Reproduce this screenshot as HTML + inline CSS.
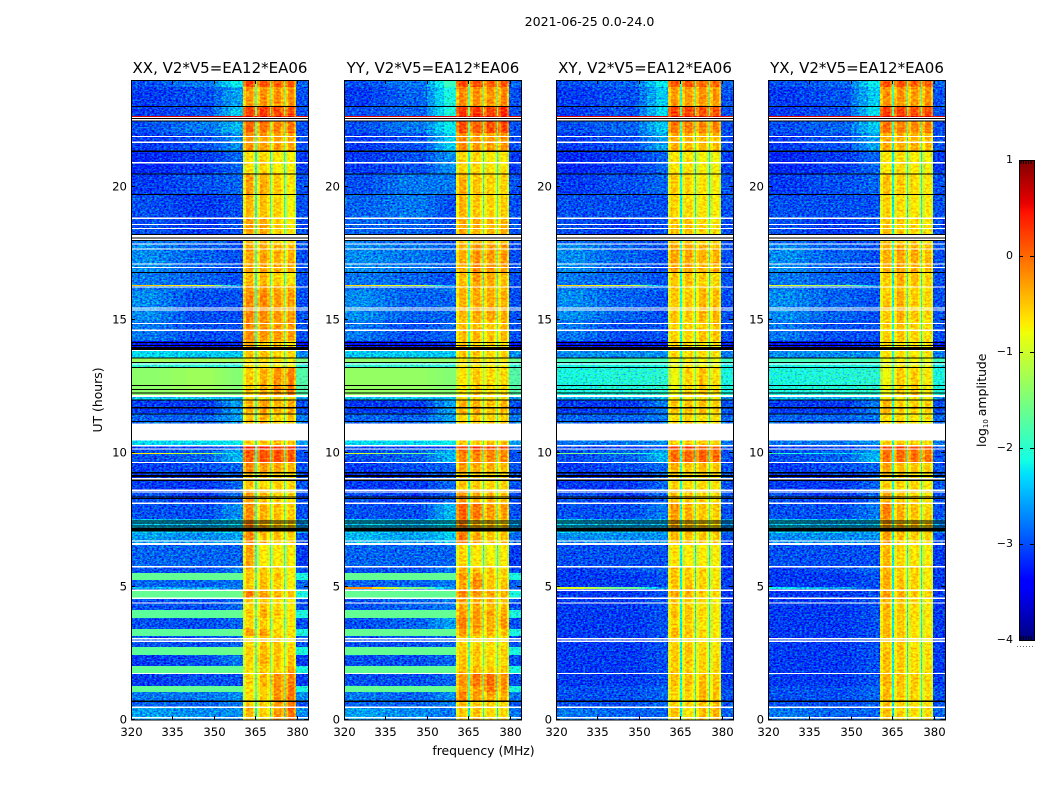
<!DOCTYPE html>
<html lang="en">
<head>
<meta charset="utf-8">
<title>2021-06-25 spectrogram</title>
<style>
html,body{margin:0;padding:0;background:#fff;width:1050px;height:800px;overflow:hidden}
svg{display:block}
text{font-family:"DejaVu Sans","Liberation Sans",sans-serif;fill:#000}
</style>
</head>
<body>
<svg id="figure" xmlns="http://www.w3.org/2000/svg" width="1050" height="800" viewBox="0 0 1050 800">
<defs>
<filter id="noiseStrong" x="0" y="0" width="100%" height="100%" color-interpolation-filters="sRGB">
<feTurbulence type="fractalNoise" baseFrequency="0.42 0.62" numOctaves="2" seed="7" result="n"/>
<feColorMatrix in="n" type="matrix" values="0 0 0 0 0.496  0 1 0 0 0  0 0 1 0 0  0 0 0 0 1" result="m"/>
<feComposite in="SourceGraphic" in2="m" operator="arithmetic" k1="0" k2="1" k3="1.25" k4="-0.62" result="c"/>
<feComposite in="c" in2="SourceAlpha" operator="in"/>
</filter>
<filter id="noiseSoft" x="0" y="0" width="100%" height="100%" color-interpolation-filters="sRGB">
<feTurbulence type="fractalNoise" baseFrequency="0.3 0.5" numOctaves="2" seed="11" result="n"/>
<feColorMatrix in="n" type="matrix" values="0 0 0 0 0.5  0 1 0 0 0  0 0 0 0 0.5  0 0 0 0 1" result="m"/>
<feComposite in="SourceGraphic" in2="m" operator="arithmetic" k1="0" k2="1" k3="0.8" k4="-0.4" result="c"/>
<feComposite in="c" in2="SourceAlpha" operator="in"/>
</filter>
</defs>
</svg>
<script>
// Time edges of the heatmap rows (hours UT)
const rowEdges = [0,0.48,0.7,1.05,1.28,1.76,2.03,2.44,2.74,3.15,3.41,3.83,4.12,4.57,4.84,4.93,4.98,5.25,5.5,5.74,6.6,7.0,7.55,8.1,8.6,9.3,9.66,9.97,10.03,10.16,10.29,10.5,11.11,11.5,12.0,12.2,13.22,13.41,13.58,13.85,14.2,15.0,16.1,16.27,16.33,16.8,17.85,18.2,18.8,19.7,20.5,21.3,22.0,22.6,22.65,23.0,23.75,24];
// Frequency edges of the heatmap columns (MHz)
const channelEdges = [320,330,335,340,345,350,353,356,360.5,361.5,364,365,365.6,366.6,369.2,370.2,370.8,371.8,374.2,375.2,375.8,376.8,379,379.8,384];
// Which row value each channel reads: 0 low,1 mid,2 rise,3-6 blocks,7 gap,8 high (fractions blend neighbours)
const channelColumn = [0,0.33,0.67,1,1,1.33,1.67,2,3,3,3,7,4,4,4,7,5,5,5,7,6,6,6,8];
// Bandpass offset of each channel (log10 amplitude)
const channelOffset = [0,0,0,0,0,0,0,0,-0.3,0.05,-0.2,0,-0.3,0.05,-0.2,0,-0.3,0.05,-0.2,0,-0.3,0.05,-0.3,0];

// log10 amplitude per row: low, mid, rise, block1-4, gap, high
const xxRows = [
[-2.6,-2.7,-2.7,-0.45,-0.6,-0.3,-0.05,-2.2,-2.7],
[-2.9,-2.9,-2.8,-0.6,-0.6,-0.3,-0.1,-2.0,-3.0],
[-2.8,-2.8,-2.7,-0.7,-0.6,-0.25,-0.1,-1.8,-2.7],
[-1.65,-1.65,-1.65,-0.7,-0.55,-0.25,-0.1,-1.6,-2.1],
[-3.1,-3.0,-3.0,-0.6,-0.45,-0.25,-0.15,-1.8,-3.1],
[-1.65,-1.65,-1.65,-0.7,-0.55,-0.6,-0.3,-1.6,-2.1],
[-3.1,-3.0,-2.8,-0.6,-0.4,-0.55,-0.5,-1.9,-3.1],
[-1.7,-1.65,-1.6,-0.55,-0.45,-0.5,-0.6,-1.6,-2.1],
[-3.0,-3.0,-2.9,-0.65,-0.5,-0.55,-0.7,-1.9,-3.0],
[-1.7,-1.7,-1.65,-0.3,-0.35,-0.6,-0.65,-1.6,-2.1],
[-3.0,-3.0,-2.9,-0.6,-0.55,-0.7,-0.75,-2.0,-3.0],
[-1.7,-1.7,-1.65,-0.55,-0.4,-0.55,-0.7,-1.6,-2.1],
[-3.0,-3.0,-2.9,-0.6,-0.5,-0.65,-0.75,-2.0,-3.0],
[-1.65,-1.65,-1.6,-0.2,-0.3,-0.45,-0.5,-1.6,-2.1],
[-2.9,-2.9,-2.8,-0.55,-0.5,-0.6,-0.75,-2.0,-2.9],
[-2.5,-2.5,-2.8,-0.55,-0.5,-0.6,-0.75,-2.0,-2.9],
[-2.9,-2.9,-2.8,-0.55,-0.5,-0.6,-0.75,-2.0,-2.9],
[-1.65,-1.65,-1.65,-0.5,-0.5,-0.5,-0.8,-1.6,-2.1],
[-3.0,-3.0,-2.8,-0.5,-0.6,-0.6,-0.7,-2.0,-3.0],
[-2.9,-2.9,-2.9,-0.35,-0.75,-0.75,-0.75,-2.0,-3.1],
[-2.6,-2.7,-2.6,-0.2,-0.5,-0.5,-0.6,-1.9,-3.0],
[-2.4,-2.5,-2.4,-0.2,-0.4,-0.5,-0.5,-1.9,-2.6],
[-3.0,-3.0,-2.7,-0.2,-0.4,-0.5,-0.55,-1.9,-3.0],
[-3.0,-3.1,-2.9,-0.3,-0.45,-0.6,-0.6,-2.0,-3.0],
[-3.1,-3.1,-2.9,-0.5,-0.6,-0.55,-0.6,-2.0,-3.0],
[-3.1,-3.0,-2.9,-0.2,-0.3,-0.3,-0.4,-1.9,-3.0],
[-3.0,-2.9,-2.5,0.05,0.1,0.1,0.05,-1.9,-3.0],
[-0.7,-1.2,-2.4,0.05,0.1,0.1,0.05,-1.9,-3.0],
[-3.0,-2.9,-2.6,0.1,0.1,0.1,0.05,-1.9,-3.0],
[-3.1,-3.1,-3.0,0.4,0.4,0.3,0.3,-2.0,-3.0],
[-2.3,-2.3,-2.2,-0.55,-0.5,-0.45,-0.5,-2.0,-2.6],
[-2.3,-2.3,-2.2,-0.55,-0.5,-0.45,-0.5,-2.0,-2.6],
[-2.9,-2.9,-2.6,-0.5,-0.4,-0.6,-0.5,-2.0,-2.8],
[-3.1,-3.1,-2.6,-0.4,-0.3,-0.4,-0.35,-1.9,-3.0],
[-2.4,-2.4,-2.4,-0.7,-0.6,-0.6,-0.7,-2.0,-2.6],
[-1.4,-1.3,-1.45,-0.55,-0.4,-0.25,-0.15,-1.3,-1.75],
[-2.0,-2.0,-2.0,-0.7,-0.7,-0.8,-0.8,-1.6,-2.0],
[-1.3,-1.3,-1.3,-0.7,-0.6,-0.7,-0.8,-1.4,-1.5],
[-2.3,-2.4,-2.4,-0.5,-0.5,-0.6,-0.6,-1.8,-2.7],
[-3.3,-3.3,-3.2,-0.3,-0.5,-0.5,-0.6,-2.1,-3.3],
[-2.8,-3.0,-3.0,-0.2,-0.25,-0.3,-0.3,-1.9,-3.0],
[-2.7,-3.0,-3.0,-0.2,-0.2,-0.3,-0.3,-1.9,-3.0],
[-2.8,-2.9,-2.9,-0.3,-0.3,-0.4,-0.4,-2.0,-3.0],
[-0.5,-0.8,-2.5,-0.3,-0.3,-0.4,-0.4,-2.0,-3.0],
[-2.8,-2.9,-3.0,-0.45,-0.45,-0.6,-0.7,-2.1,-3.0],
[-2.7,-2.9,-3.0,-0.35,-0.35,-0.4,-0.4,-1.9,-3.0],
[-2.8,-2.9,-3.0,-0.5,-0.5,-0.6,-0.6,-2.0,-3.0],
[-3.0,-3.1,-3.0,-0.35,-0.35,-0.55,-0.7,-1.9,-3.0],
[-3.0,-3.1,-3.0,-0.45,-0.5,-0.6,-0.8,-2.1,-3.0],
[-3.1,-3.0,-2.9,-0.35,-0.4,-0.55,-0.7,-2.0,-3.0],
[-3.2,-3.1,-2.9,-0.7,-0.6,-0.75,-0.75,-2.1,-3.1],
[-3.1,-3.0,-2.7,-0.25,-0.3,-0.35,-0.35,-1.8,-3.0],
[-3.0,-2.8,-2.5,0,-0.1,-0.2,-0.1,-1.6,-3.0],
[0.6,0.6,0.6,0.6,0.6,0.6,0.6,0.6,0.6],
[-3.1,-3.0,-2.4,0.2,0.25,0.15,0.1,-1.5,-3.0],
[-3.1,-3.0,-2.6,-0.3,-0.25,-0.25,-0.25,-1.7,-3.0],
[-3.0,-2.8,-2.2,0.15,0.1,0,0.05,-1.5,-2.9]
];
const yyRows = [
[-2.6,-2.7,-2.8,-0.55,-0.5,-0.65,-0.6,-2.2,-2.8],
[-2.9,-2.9,-2.8,-0.5,-0.55,-0.6,-0.6,-2.0,-3.0],
[-2.8,-2.9,-2.7,-0.2,-0.3,-0.35,-0.4,-1.9,-2.8],
[-1.65,-1.65,-1.65,-0.3,-0.3,-0.1,-0.3,-1.6,-2.1],
[-3.0,-3.0,-2.9,-0.25,-0.1,-0.05,-0.25,-1.8,-3.0],
[-1.65,-1.65,-1.65,-0.45,-0.45,-0.5,-0.5,-1.6,-2.1],
[-3.0,-3.0,-2.9,-0.5,-0.55,-0.65,-0.6,-1.9,-3.0],
[-1.65,-1.65,-1.65,-0.55,-0.5,-0.6,-0.55,-1.6,-2.1],
[-3.0,-3.0,-2.9,-0.6,-0.6,-0.65,-0.65,-1.9,-3.0],
[-1.65,-1.65,-1.65,-0.35,-0.4,-0.45,-0.5,-1.6,-2.1],
[-3.0,-2.9,-2.6,-0.15,-0.3,-0.4,-0.3,-1.9,-3.0],
[-1.65,-1.65,-1.65,-0.3,-0.3,-0.35,-0.4,-1.6,-2.1],
[-3.0,-2.9,-2.8,-0.35,-0.4,-0.45,-0.5,-2.0,-3.0],
[-1.65,-1.65,-1.65,-0.2,-0.25,-0.35,-0.4,-1.6,-2.1],
[-2.9,-2.9,-2.8,-0.4,-0.3,-0.5,-0.5,-2.0,-2.9],
[-0.2,-1.5,-2.6,-0.4,-0.3,-0.5,-0.5,-2.0,-2.9],
[-2.9,-2.9,-2.8,-0.4,-0.2,-0.5,-0.5,-2.0,-2.9],
[-1.65,-1.65,-1.65,-0.3,-0.3,-0.5,-0.6,-1.6,-2.1],
[-3.0,-3.0,-2.8,-0.45,-0.5,-0.55,-0.6,-2.0,-3.0],
[-2.9,-2.9,-2.9,-0.6,-0.7,-0.8,-0.75,-2.0,-3.1],
[-2.5,-2.6,-2.4,-0.1,-0.35,-0.5,-0.5,-1.9,-2.9],
[-2.4,-2.5,-2.3,-0.15,-0.4,-0.45,-0.5,-1.9,-2.6],
[-3.0,-3.0,-2.5,0,-0.1,-0.3,-0.3,-1.9,-3.0],
[-3.0,-3.1,-2.9,-0.25,-0.4,-0.45,-0.5,-2.0,-3.0],
[-3.1,-3.1,-2.9,-0.5,-0.55,-0.6,-0.6,-2.0,-3.0],
[-3.1,-3.0,-2.9,-0.3,-0.35,-0.4,-0.45,-1.9,-3.0],
[-3.0,-2.9,-2.5,-0.2,-0.2,-0.2,-0.2,-1.9,-3.0],
[-1.0,-1.6,-2.4,-0.2,-0.2,-0.2,-0.2,-1.9,-3.0],
[-3.0,-2.9,-2.6,-0.1,-0.1,-0.15,-0.15,-1.9,-3.0],
[-3.1,-3.1,-3.0,0.25,0.3,0.2,0.2,-2.0,-3.0],
[-2.3,-2.3,-2.2,-0.55,-0.55,-0.5,-0.5,-2.0,-2.6],
[-2.3,-2.3,-2.2,-0.55,-0.5,-0.45,-0.5,-2.0,-2.6],
[-2.9,-2.9,-2.6,-0.6,-0.5,-0.6,-0.55,-2.0,-2.8],
[-3.1,-3.1,-2.6,-0.4,-0.4,-0.5,-0.4,-1.9,-3.0],
[-2.4,-2.4,-2.4,-0.7,-0.6,-0.7,-0.7,-2.0,-2.6],
[-1.35,-1.35,-1.45,-0.7,-0.55,-0.65,-0.6,-1.3,-1.75],
[-2.0,-2.0,-2.0,-0.75,-0.7,-0.75,-0.75,-1.6,-2.0],
[-1.4,-1.4,-1.4,-0.7,-0.6,-0.7,-0.7,-1.4,-1.6],
[-2.4,-2.4,-2.4,-0.55,-0.55,-0.6,-0.6,-1.9,-2.7],
[-3.3,-3.3,-3.2,-0.5,-0.6,-0.6,-0.65,-2.1,-3.3],
[-2.8,-3.0,-2.9,-0.5,-0.45,-0.5,-0.45,-1.9,-3.0],
[-2.7,-2.9,-2.9,-0.45,-0.35,-0.35,-0.4,-1.9,-3.0],
[-2.8,-2.9,-2.8,-0.4,-0.35,-0.4,-0.45,-2.0,-3.0],
[-0.6,-1.0,-2.5,-0.4,-0.35,-0.4,-0.45,-2.0,-3.0],
[-2.8,-2.9,-3.0,-0.5,-0.3,-0.35,-0.5,-2.1,-3.0],
[-2.7,-2.8,-2.9,-0.4,-0.25,-0.3,-0.3,-1.9,-3.0],
[-2.8,-2.9,-3.0,-0.5,-0.45,-0.5,-0.5,-2.0,-3.0],
[-2.9,-2.9,-3.0,-0.35,-0.4,-0.45,-0.4,-1.9,-3.0],
[-2.9,-2.8,-3.0,-0.45,-0.55,-0.6,-0.55,-2.0,-3.0],
[-3.0,-2.8,-2.8,-0.4,-0.5,-0.6,-0.6,-2.0,-3.0],
[-3.1,-3.0,-2.7,-0.6,-0.6,-0.7,-0.7,-2.0,-3.1],
[-3.1,-3.0,-2.4,-0.2,-0.3,-0.3,-0.25,-1.8,-3.0],
[-3.0,-2.8,-2.2,0.1,0.05,0.1,0.15,-1.6,-3.0],
[0.6,0.6,0.6,0.6,0.6,0.6,0.6,0.6,0.6],
[-3.0,-2.9,-2.1,0.25,0.25,0.2,0.3,-1.5,-3.0],
[-3.1,-2.9,-2.1,-0.2,-0.25,-0.25,-0.2,-1.7,-3.0],
[-3.0,-2.8,-1.9,0.2,0.15,0.05,0.1,-1.5,-2.9]
];
const xyRows = [
[-2.8,-2.9,-2.9,-0.5,-0.7,-0.5,-0.4,-2.3,-2.9],
[-3.0,-3.0,-2.9,-0.6,-0.6,-0.5,-0.45,-2.2,-3.0],
[-3.0,-3.0,-2.9,-0.6,-0.6,-0.45,-0.5,-2.1,-3.0],
[-3.0,-3.0,-2.9,-0.6,-0.55,-0.45,-0.5,-2.1,-3.0],
[-3.1,-3.1,-3.0,-0.5,-0.5,-0.5,-0.55,-2.1,-3.1],
[-3.1,-3.1,-3.0,-0.55,-0.6,-0.6,-0.6,-2.2,-3.1],
[-3.1,-3.1,-3.0,-0.55,-0.55,-0.6,-0.65,-2.2,-3.1],
[-3.1,-3.1,-3.0,-0.55,-0.5,-0.6,-0.65,-2.2,-3.1],
[-3.1,-3.1,-3.0,-0.6,-0.55,-0.65,-0.7,-2.2,-3.1],
[-3.1,-3.1,-3.0,-0.45,-0.5,-0.65,-0.7,-2.2,-3.1],
[-3.1,-3.1,-3.0,-0.6,-0.55,-0.7,-0.75,-2.2,-3.1],
[-3.1,-3.1,-3.0,-0.5,-0.5,-0.6,-0.7,-2.2,-3.1],
[-3.1,-3.1,-3.0,-0.55,-0.55,-0.65,-0.75,-2.2,-3.1],
[-3.1,-3.1,-3.0,-0.35,-0.4,-0.55,-0.6,-2.1,-3.1],
[-3.1,-3.1,-3.0,-0.5,-0.5,-0.6,-0.7,-2.2,-3.1],
[-0.9,-1.6,-2.7,-0.5,-0.5,-0.6,-0.7,-2.2,-3.1],
[-3.1,-3.1,-3.0,-0.5,-0.5,-0.6,-0.7,-2.2,-3.1],
[-3.1,-3.1,-3.0,-0.5,-0.55,-0.6,-0.75,-2.2,-3.1],
[-3.1,-3.0,-2.9,-0.5,-0.55,-0.6,-0.7,-2.2,-3.1],
[-3.0,-3.0,-3.0,-0.7,-0.75,-0.75,-0.75,-2.2,-3.1],
[-2.7,-2.7,-2.7,-0.45,-0.5,-0.55,-0.6,-2.1,-3.0],
[-2.4,-2.5,-2.5,-0.35,-0.45,-0.5,-0.55,-2.0,-2.7],
[-3.0,-3.0,-2.8,-0.3,-0.4,-0.5,-0.55,-2.0,-3.0],
[-3.0,-3.1,-2.9,-0.45,-0.5,-0.6,-0.6,-2.1,-3.0],
[-3.1,-3.1,-2.9,-0.6,-0.65,-0.6,-0.65,-2.1,-3.0],
[-3.1,-3.0,-2.9,-0.4,-0.5,-0.45,-0.5,-2.0,-3.0],
[-3.0,-2.9,-2.5,-0.05,0,0,-0.05,-2.0,-3.0],
[-1.5,-1.8,-2.4,-0.05,0,0,-0.05,-2.0,-3.0],
[-3.0,-2.9,-2.6,-0.1,-0.05,0,0,-2.0,-3.0],
[-3.1,-3.1,-3.0,0.25,0.3,0.1,0.05,-2.0,-3.0],
[-2.8,-2.8,-2.7,-0.6,-0.55,-0.5,-0.55,-2.1,-2.8],
[-2.8,-2.8,-2.7,-0.6,-0.55,-0.5,-0.55,-2.1,-2.8],
[-2.9,-2.9,-2.8,-0.65,-0.55,-0.65,-0.65,-2.1,-2.9],
[-3.1,-3.1,-2.8,-0.5,-0.5,-0.5,-0.55,-2.0,-3.0],
[-2.5,-2.5,-2.5,-0.75,-0.7,-0.7,-0.75,-2.1,-2.7],
[-2.1,-2.05,-2.0,-0.85,-0.6,-0.5,-0.65,-1.7,-2.1],
[-2.1,-2.1,-2.1,-0.9,-0.75,-0.8,-0.85,-1.8,-2.2],
[-1.85,-1.85,-1.85,-0.85,-0.75,-0.8,-0.85,-1.7,-1.9],
[-2.7,-2.7,-2.7,-0.6,-0.65,-0.65,-0.7,-2.0,-2.8],
[-3.3,-3.3,-3.2,-0.55,-0.6,-0.7,-0.7,-2.2,-3.3],
[-2.8,-3.0,-3.0,-0.6,-0.6,-0.5,-0.5,-2.1,-3.0],
[-2.7,-2.9,-3.0,-0.55,-0.55,-0.45,-0.45,-2.1,-3.0],
[-2.8,-2.9,-2.9,-0.55,-0.55,-0.5,-0.55,-2.1,-3.0],
[-0.6,-0.9,-2.6,-0.55,-0.55,-0.5,-0.55,-2.1,-3.0],
[-2.8,-2.9,-3.0,-0.55,-0.5,-0.55,-0.65,-2.2,-3.0],
[-2.7,-2.9,-3.0,-0.35,-0.35,-0.4,-0.4,-2.0,-3.0],
[-2.9,-3.0,-3.0,-0.55,-0.55,-0.6,-0.6,-2.1,-3.0],
[-3.0,-3.1,-3.0,-0.5,-0.5,-0.6,-0.65,-2.1,-3.0],
[-3.0,-3.0,-3.0,-0.6,-0.65,-0.7,-0.75,-2.2,-3.0],
[-3.1,-3.0,-2.9,-0.55,-0.6,-0.7,-0.75,-2.1,-3.0],
[-3.2,-3.1,-2.9,-0.7,-0.7,-0.8,-0.8,-2.2,-3.1],
[-3.1,-3.0,-2.6,-0.4,-0.45,-0.45,-0.45,-2.0,-3.0],
[-3.0,-2.9,-2.4,-0.1,-0.15,-0.2,-0.15,-1.8,-3.0],
[0.6,0.6,0.6,0.6,0.6,0.6,0.6,0.6,0.6],
[-3.1,-3.0,-2.3,0.2,0.2,0.1,0.1,-1.7,-3.0],
[-3.1,-3.0,-2.4,-0.3,-0.3,-0.25,-0.25,-1.9,-3.0],
[-3.0,-2.9,-2.2,0.1,0.1,0,0,-1.7,-2.9]
];
const yxRows = [
[-2.8,-2.9,-2.9,-0.5,-0.6,-0.65,-0.65,-2.3,-2.9],
[-3.0,-3.0,-2.9,-0.5,-0.6,-0.65,-0.65,-2.2,-3.0],
[-3.0,-3.0,-2.9,-0.45,-0.55,-0.6,-0.65,-2.1,-3.0],
[-3.0,-3.0,-2.9,-0.5,-0.55,-0.6,-0.65,-2.1,-3.0],
[-3.1,-3.1,-3.0,-0.4,-0.5,-0.55,-0.65,-2.1,-3.1],
[-3.1,-3.1,-3.0,-0.5,-0.55,-0.65,-0.65,-2.2,-3.1],
[-3.1,-3.1,-3.0,-0.45,-0.55,-0.65,-0.7,-2.2,-3.1],
[-3.1,-3.1,-3.0,-0.5,-0.5,-0.65,-0.65,-2.2,-3.1],
[-3.1,-3.1,-3.0,-0.55,-0.55,-0.7,-0.7,-2.2,-3.1],
[-3.1,-3.1,-3.0,-0.4,-0.5,-0.65,-0.7,-2.2,-3.1],
[-3.1,-3.1,-3.0,-0.5,-0.55,-0.7,-0.75,-2.2,-3.1],
[-3.1,-3.1,-3.0,-0.45,-0.5,-0.65,-0.7,-2.2,-3.1],
[-3.1,-3.1,-3.0,-0.45,-0.55,-0.65,-0.75,-2.2,-3.1],
[-3.1,-3.1,-3.0,-0.3,-0.4,-0.55,-0.6,-2.1,-3.1],
[-3.1,-3.1,-3.0,-0.4,-0.5,-0.6,-0.7,-2.2,-3.1],
[-2.2,-2.6,-3.0,-0.4,-0.5,-0.6,-0.7,-2.2,-3.1],
[-3.1,-3.1,-3.0,-0.4,-0.5,-0.6,-0.7,-2.2,-3.1],
[-3.1,-3.1,-3.0,-0.4,-0.55,-0.6,-0.75,-2.2,-3.1],
[-3.1,-3.0,-2.9,-0.4,-0.55,-0.6,-0.7,-2.2,-3.1],
[-3.0,-3.0,-3.0,-0.45,-0.6,-0.7,-0.75,-2.2,-3.1],
[-2.7,-2.7,-2.7,-0.35,-0.5,-0.6,-0.6,-2.1,-3.0],
[-2.4,-2.5,-2.5,-0.3,-0.45,-0.5,-0.55,-2.0,-2.7],
[-3.0,-3.0,-2.8,-0.15,-0.4,-0.5,-0.6,-2.0,-3.0],
[-3.0,-3.1,-2.9,-0.35,-0.5,-0.6,-0.65,-2.1,-3.0],
[-3.1,-3.1,-2.9,-0.55,-0.6,-0.6,-0.7,-2.1,-3.0],
[-3.1,-3.0,-2.9,-0.35,-0.45,-0.5,-0.55,-2.0,-3.0],
[-3.0,-2.9,-2.5,-0.1,-0.05,-0.1,-0.1,-2.0,-3.0],
[-2.0,-2.3,-2.5,-0.1,-0.05,-0.1,-0.1,-2.0,-3.0],
[-3.0,-2.9,-2.6,-0.1,-0.05,-0.1,-0.1,-2.0,-3.0],
[-3.1,-3.1,-3.0,0.2,0.25,0.15,0.15,-2.0,-3.0],
[-2.8,-2.8,-2.7,-0.6,-0.55,-0.55,-0.6,-2.1,-2.8],
[-2.8,-2.8,-2.7,-0.6,-0.55,-0.55,-0.6,-2.1,-2.8],
[-2.9,-2.9,-2.8,-0.6,-0.6,-0.7,-0.65,-2.1,-2.9],
[-3.1,-3.1,-2.8,-0.4,-0.55,-0.6,-0.55,-2.0,-3.0],
[-2.5,-2.5,-2.5,-0.75,-0.75,-0.75,-0.75,-2.1,-2.7],
[-2.1,-2.05,-2.0,-0.85,-0.55,-0.55,-0.7,-1.7,-2.1],
[-2.1,-2.1,-2.1,-0.9,-0.75,-0.8,-0.85,-1.8,-2.2],
[-1.85,-1.85,-1.85,-0.85,-0.75,-0.8,-0.85,-1.7,-1.9],
[-2.7,-2.7,-2.7,-0.65,-0.65,-0.7,-0.7,-2.0,-2.8],
[-3.3,-3.3,-3.2,-0.6,-0.6,-0.7,-0.7,-2.2,-3.3],
[-2.8,-3.0,-3.0,-0.6,-0.5,-0.6,-0.65,-2.1,-3.0],
[-2.7,-2.9,-3.0,-0.55,-0.4,-0.55,-0.6,-2.1,-3.0],
[-2.8,-2.9,-2.9,-0.55,-0.45,-0.55,-0.6,-2.1,-3.0],
[-0.9,-1.3,-2.6,-0.55,-0.45,-0.55,-0.6,-2.1,-3.0],
[-2.8,-2.9,-3.0,-0.55,-0.4,-0.5,-0.6,-2.2,-3.0],
[-2.7,-2.9,-3.0,-0.4,-0.35,-0.4,-0.45,-2.0,-3.0],
[-2.9,-3.0,-3.0,-0.55,-0.55,-0.6,-0.65,-2.1,-3.0],
[-3.0,-3.1,-3.0,-0.5,-0.55,-0.6,-0.7,-2.1,-3.0],
[-3.0,-3.0,-3.0,-0.6,-0.65,-0.7,-0.75,-2.2,-3.0],
[-3.1,-3.0,-2.9,-0.5,-0.55,-0.65,-0.7,-2.1,-3.0],
[-3.2,-3.1,-2.9,-0.7,-0.65,-0.75,-0.8,-2.2,-3.1],
[-3.1,-3.0,-2.6,-0.35,-0.4,-0.4,-0.45,-2.0,-3.0],
[-3.0,-2.9,-2.4,-0.05,-0.15,-0.2,-0.15,-1.8,-3.0],
[0.6,0.6,0.6,0.6,0.6,0.6,0.6,0.6,0.6],
[-3.1,-3.0,-2.3,0.2,0.2,0.1,0.15,-1.7,-3.0],
[-3.1,-3.0,-2.4,-0.25,-0.25,-0.3,-0.25,-1.9,-3.0],
[-3.0,-2.9,-2.2,0.1,0.1,0.05,0.05,-1.7,-2.9]
];

// Flagged time ranges: [centre hour, duration hours]
const whiteFlags = [[0.09,0.06],[0.48,0.05],[1.75,0.04],[2.95,0.05],[3.05,0.05],[4.39,0.05],[4.57,0.05],[4.87,0.05],[5.74,0.06],[6.6,0.06],[6.71,0.05],[8.13,0.05],[8.55,0.04],[8.62,0.05],[9.05,0.05],[9.66,0.04],[10.16,0.05],[10.29,0.05],[10.8,0.62],[12.15,0.07],[13.35,0.05],[13.87,0.05],[14.62,0.05],[14.87,0.04],[15.38,0.04],[15.45,0.04],[16.24,0.05],[16.97,0.04],[17.1,0.05],[17.66,0.05],[17.85,0.05],[18.02,0.06],[18.14,0.09],[18.43,0.05],[18.58,0.05],[18.82,0.05],[20.9,0.05],[21.66,0.05],[21.88,0.05],[22.51,0.08],[22.59,0.05]];
const blackFlags = [[0.7,0.05],[7.14,0.14],[7.28,0.04],[7.38,0.04],[7.46,0.04],[8.31,0.04],[8.37,0.04],[8.99,0.04],[9.15,0.07],[9.27,0.05],[11.19,0.04],[11.47,0.04],[11.71,0.04],[12.0,0.04],[12.27,0.04],[12.39,0.04],[12.54,0.04],[13.22,0.04],[13.41,0.04],[13.58,0.04],[13.93,0.1],[14.04,0.04],[14.15,0.04],[16.78,0.04],[17.98,0.04],[18.07,0.04],[18.2,0.04],[19.7,0.04],[20.47,0.04],[21.33,0.07],[22.46,0.04],[22.55,0.04],[23.0,0.04]];

// Axis tick labels
const freqTicks = [320,335,350,365,380];
const timeTicks = [0,5,10,15,20];
const colorTicks = [-4,-3,-2,-1,0,1];
const panelTitles = ['XX, V2*V5=EA12*EA06','YY, V2*V5=EA12*EA06','XY, V2*V5=EA12*EA06','YX, V2*V5=EA12*EA06'];
const panelKeys = ['xx','yy','xy','yx'];
const panelRows = [xxRows,yyRows,xyRows,yxRows];

const NS = 'http://www.w3.org/2000/svg';
const fig = document.getElementById('figure');
const PANEL_W = 177, TOP = 80, BOTTOM = 720;
const PANEL_LEFT = [131,344,556,768];

function mk(tag, attrs, parent){
  const e = document.createElementNS(NS, tag);
  for (const k in attrs) e.setAttribute(k, attrs[k]);
  (parent || fig).appendChild(e);
  return e;
}
function lerp(stops, t){
  for (let i = 1; i < stops.length; i++){
    if (t <= stops[i][0]){
      const a = stops[i-1], b = stops[i];
      return a[1] + (b[1]-a[1]) * (t-a[0]) / (b[0]-a[0]);
    }
  }
  return stops[stops.length-1][1];
}
const jetR = [[0,0],[0.35,0],[0.66,1],[0.89,1],[1,0.5]];
const jetG = [[0,0],[0.125,0],[0.375,1],[0.64,1],[0.91,0],[1,0]];
const jetB = [[0,0.5],[0.11,1],[0.34,1],[0.65,0],[1,0]];
function jet(v){
  const t = Math.max(0, Math.min(1, (v+4)/5));
  return 'rgb(' + Math.round(255*lerp(jetR,t)) + ',' + Math.round(255*lerp(jetG,t)) + ',' + Math.round(255*lerp(jetB,t)) + ')';
}
function xScale(left, f){ return left + (f-320) * PANEL_W / 64; }
function yScale(t){ return BOTTOM - t * (BOTTOM-TOP) / 24; }
function cScale(v){ return 640 - (v+4) * 480 / 5; }
function readColumn(vals, col){
  const lo = Math.floor(col), w = col - lo;
  return w === 0 ? vals[lo] : vals[lo] * (1-w) + vals[lo+1] * w;
}

panelRows.forEach(function(rows, p){
  const left = PANEL_LEFT[p];
  const g = mk('g', {});
  
  

  const noisy = mk('g', {filter:'url(#noiseStrong)','shape-rendering':'crispEdges'}, g);
  
  
  const soft = mk('g', {filter:'url(#noiseSoft)','shape-rendering':'crispEdges'}, g);
  
  
  const flat = mk('g', {'shape-rendering':'crispEdges'}, g);
  
  

  rows.forEach(function(vals, r){
    const y1 = Math.round(yScale(rowEdges[r]));
    const y0 = Math.round(yScale(rowEdges[r+1]));
    channelOffset.forEach(function(off, c){
      const col = channelColumn[c];
      const v = readColumn(vals, col) + off;
      const x0 = Math.round(xScale(left, channelEdges[c]));
      const x1 = Math.round(xScale(left, channelEdges[c+1]));
      const parent = v < -1.9 ? noisy : (col >= 3 ? soft : flat);
      const cell = mk('rect', {x:x0, y:y0, width:x1-x0, height:Math.max(1,y1-y0), fill:jet(v)}, parent);
      
      
    });
  });

  const flags = mk('g', {'shape-rendering':'crispEdges'}, g);
  
  
  whiteFlags.forEach(function(fl){
    const r = mk('rect', {x:left, y:yScale(fl[0]+fl[1]/2), width:PANEL_W, height:Math.max(1,fl[1]*640/24), fill:'#fff'}, flags);
    
    
  });
  blackFlags.forEach(function(fl){
    const r = mk('rect', {x:left, y:yScale(fl[0]+fl[1]/2), width:PANEL_W, height:Math.max(1,fl[1]*640/24), fill:'#000'}, flags);
    
    
  });

  freqTicks.forEach(function(f){
    const x = Math.round(xScale(left, f)) + 0.5;
    const t1 = mk('line', {x1:x, x2:x, y1:BOTTOM, y2:BOTTOM-4, stroke:'#000','stroke-width':1}, g);
    
    
    const t2 = mk('line', {x1:x, x2:x, y1:TOP, y2:TOP+4, stroke:'#000','stroke-width':1}, g);
    
    
    const lab = mk('text', {x:x, y:BOTTOM+16, 'text-anchor':'middle','font-size':11.7}, g);
    lab.textContent = f;
    
    
  });
  timeTicks.forEach(function(t){
    const y = Math.round(yScale(t)) - 0.5;
    const t1 = mk('line', {x1:left, x2:left+4, y1:y, y2:y, stroke:'#000','stroke-width':1}, g);
    
    
    const t2 = mk('line', {x1:left+PANEL_W, x2:left+PANEL_W-4, y1:y, y2:y, stroke:'#000','stroke-width':1}, g);
    
    
    const lab = mk('text', {x:left-4, y:y+3.8, 'text-anchor':'end','font-size':11.7}, g);
    lab.textContent = t;
    
    
  });

  const frame = mk('rect', {x:left+0.5, y:TOP+0.5, width:PANEL_W, height:BOTTOM-TOP-0.5, fill:'none', stroke:'#000','stroke-width':1}, g);
  
  

  const title = mk('text', {x:left+PANEL_W/2+0.5, y:73, 'text-anchor':'middle','font-size':15}, g);
  title.textContent = panelTitles[p];
  
  
});

// Colour bar
const barG = mk('g', {});


const BAR_X = 1019, BAR_W = 15;
const barStrip = mk('g', {'shape-rendering':'crispEdges'}, barG);


for (let i = 0; i < 240; i++){
  const v = -4 + (i + 0.5) * 5 / 240;
  const y = cScale(v) - 1;
  const swatch = mk('rect', {x:BAR_X, y:y, width:BAR_W, height:2.2, fill:jet(v)}, barStrip);
  
  
}
const barFrame = mk('rect', {x:BAR_X+0.5, y:160.5, width:BAR_W, height:480, fill:'none', stroke:'#000','stroke-width':1}, barG);


colorTicks.forEach(function(v){
  const y = Math.round(cScale(v)) + 0.5;
  const a = mk('line', {x1:BAR_X, x2:BAR_X+4, y1:y, y2:y, stroke:'#000','stroke-width':1}, barG);
  
  
  const b = mk('line', {x1:BAR_X+BAR_W, x2:BAR_X+BAR_W-4, y1:y, y2:y, stroke:'#000','stroke-width':1}, barG);
  
  
  const lab = mk('text', {x:BAR_X-6, y:y+2.5, 'text-anchor':'end','font-size':11}, barG);
  lab.textContent = v < 0 ? '\u2212' + (-v) : String(v);
  
  
});
[1021,1023.5,1026,1028.5,1031].forEach(function(x){
  const top = mk('line', {x1:x, x2:x, y1:160, y2:164, stroke:'#000','stroke-width':1}, barG);
  
  
  const bottom = mk('line', {x1:x, x2:x, y1:640, y2:636, stroke:'#000','stroke-width':1}, barG);
  
  
});
const dots = mk('line', {x1:1017, x2:1035, y1:646.5, y2:646.5, stroke:'#666','stroke-width':1,'stroke-dasharray':'1 2'}, barG);



const barLabel = mk('text', {transform:'translate(986,447) rotate(-90)','font-size':12.4}, barG);


const t1 = mk('tspan', {}, barLabel);
t1.textContent = 'log';
const t2 = mk('tspan', {'font-size':7,dy:2}, barLabel);
t2.textContent = '10';
const t3 = mk('tspan', {dy:-2,dx:3}, barLabel);
t3.textContent = 'amplitude';

// Figure labels
const supTitle = mk('text', {x:589.5, y:26, 'text-anchor':'middle','font-size':12.6});
supTitle.textContent = '2021-06-25 0.0-24.0';



const xTitle = mk('text', {x:483.5, y:755, 'text-anchor':'middle','font-size':12.4});
xTitle.textContent = 'frequency (MHz)';



const yTitle = mk('text', {transform:'translate(102,400) rotate(-90)','text-anchor':'middle','font-size':12.4});
yTitle.textContent = 'UT (hours)';


</script>
</body>
</html>
